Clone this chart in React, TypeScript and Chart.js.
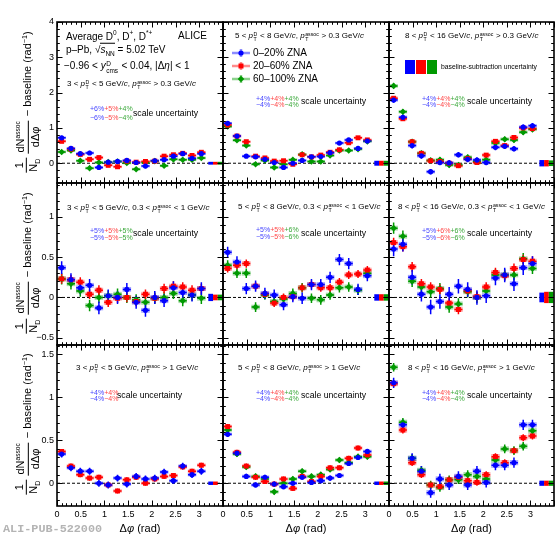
import React, { useEffect, useRef } from 'react';
import { Chart, registerables } from 'chart.js';

Chart.register(...registerables);

const W = 555;
const H = 537;
const FONT = '"Liberation Sans", Arial, Helvetica, sans-serif';

// Δφ bin centres (rad)
const DPHI = [0.0982, 0.2945, 0.4909, 0.6872, 0.8836, 1.0799, 1.2763, 1.4726, 1.669, 1.8653, 2.0617, 2.258, 2.4544, 2.6507, 2.8471, 3.0434];
const BASELINE_X = [3.24, 3.34, 3.44];
const X_TICKS = [0, 0.5, 1, 1.5, 2, 2.5, 3];
const Y_TICKS = [[0, 1, 2, 3, 4], [-0.5, 0, 0.5, 1], [0, 0.5, 1, 1.5]];
const CENTRALITY = ['0–20% ZNA', '20–60% ZNA', '60–100% ZNA'];
const D_PT_BINS = [['3', '5'], ['5', '8'], ['8', '16']];
const SCALE_UNC = [
  ['6', '5', '4'], ['4', '4', '4'], ['4', '4', '4'],
  ['5', '5', '5'], ['5', '5', '6'], ['5', '6', '6'],
  ['4', '4'], ['4', '4', '4'], ['4', '4', '4'],
];

// ---- pT(assoc) > 0.3 GeV/c ----
const d3to5_a03_c0_20 = [0.72, 0.42, 0.27, 0.29, -0.12, 0.03, 0.05, 0.08, 0.02, -0.08, 0.07, 0.10, 0.20, 0.27, 0.14, 0.27];
const d3to5_a03_c20_60 = [0.62, 0.40, 0.25, 0.11, 0.16, -0.06, -0.10, 0.06, 0.03, 0.05, 0.06, 0.20, 0.24, 0.28, 0.22, 0.31];
const d3to5_a03_c60_100 = [0.32, 0.36, 0.07, -0.14, 0.02, 0.03, 0.05, 0.01, -0.17, 0.02, 0.06, -0.07, 0.11, 0.10, 0.10, 0.15];

const d5to8_a03_c0_20 = [1.13, 0.77, 0.20, 0.18, 0.11, 0.02, -0.12, 0.00, 0.08, 0.18, 0.19, 0.30, 0.57, 0.66, 0.42, 0.63];
const d5to8_a03_c20_60 = [1.08, 0.77, 0.61, 0.20, 0.15, 0.06, 0.07, -0.03, 0.24, 0.18, 0.23, 0.31, 0.38, 0.58, 0.72, 0.66];
const d5to8_a03_c60_100 = [1.04, 0.65, 0.50, -0.03, 0.08, -0.12, -0.03, 0.10, 0.25, 0.05, 0.05, 0.22, 0.36, 0.36, 0.40, 0.62];

const d8to16_a03_c0_20 = [1.79, 1.30, 0.50, 0.21, -0.24, 0.02, 0.01, 0.24, 0.11, 0.09, 0.02, 0.45, 0.48, 0.41, 1.02, 1.06];
const d8to16_a03_c20_60 = [1.84, 1.26, 0.61, 0.28, 0.07, 0.05, 0.00, -0.07, 0.13, 0.02, 0.23, 0.62, 0.50, 0.73, 1.00, 0.98];
const d8to16_a03_c60_100 = [2.19, 1.46, 0.61, 0.28, 0.08, 0.10, -0.05, -0.05, 0.17, 0.05, 0.10, 0.57, 0.68, 0.66, 0.88, 0.96];

// ---- 0.3 < pT(assoc) < 1 GeV/c ----
const d3to5_a03to1_c0_20 = [0.37, 0.22, 0.12, 0.15, -0.13, 0.02, 0.00, 0.10, -0.06, -0.16, 0.00, -0.04, 0.12, 0.06, 0.03, 0.11];
const d3to5_a03to1_c20_60 = [0.23, 0.22, 0.19, 0.04, 0.09, -0.06, -0.01, 0.00, -0.05, 0.04, -0.01, 0.11, 0.14, 0.13, 0.09, 0.11];
const d3to5_a03to1_c60_100 = [0.23, 0.17, 0.08, -0.10, 0.00, 0.02, 0.04, 0.00, -0.03, -0.06, -0.01, 0.00, 0.05, -0.04, 0.03, -0.01];

const d5to8_a03to1_c0_20 = [0.56, 0.44, 0.11, 0.14, 0.05, 0.03, -0.09, 0.01, -0.01, 0.16, 0.16, 0.25, 0.47, 0.42, 0.10, 0.27];
const d5to8_a03to1_c20_60 = [0.36, 0.40, 0.42, 0.14, 0.04, -0.07, 0.00, 0.01, 0.12, 0.16, 0.12, 0.12, 0.19, 0.28, 0.29, 0.34];
const d5to8_a03to1_c60_100 = [0.40, 0.30, 0.30, -0.12, 0.03, -0.05, -0.02, 0.05, 0.12, -0.01, -0.03, 0.03, 0.12, 0.13, 0.09, 0.30];

const d8to16_a03to1_c0_20 = [0.60, 0.66, 0.25, 0.04, -0.12, -0.05, 0.04, 0.14, 0.10, 0.00, 0.02, 0.24, 0.28, 0.17, 0.37, 0.42];
const d8to16_a03to1_c20_60 = [0.68, 0.63, 0.38, 0.17, 0.13, 0.10, -0.07, -0.15, 0.08, 0.01, 0.13, 0.31, 0.27, 0.36, 0.47, 0.45];
const d8to16_a03to1_c60_100 = [0.86, 0.76, 0.20, 0.13, 0.07, 0.11, -0.12, -0.08, 0.07, 0.00, 0.08, 0.28, 0.28, 0.28, 0.48, 0.36];

// ---- pT(assoc) > 1 GeV/c ----
const d3to5_a1_c0_20 = [0.34, 0.18, 0.14, 0.14, 0.00, -0.02, 0.06, -0.01, 0.08, 0.05, 0.06, 0.13, 0.03, 0.20, 0.10, 0.14];
const d3to5_a1_c20_60 = [0.37, 0.20, 0.10, 0.06, 0.07, -0.02, -0.09, 0.04, 0.07, 0.00, 0.05, 0.08, 0.09, 0.19, 0.14, 0.21];

const d5to8_a1_c0_20 = [0.57, 0.35, 0.08, -0.02, 0.07, -0.01, -0.04, 0.00, 0.07, 0.01, 0.03, 0.06, 0.09, 0.23, 0.30, 0.37];
const d5to8_a1_c20_60 = [0.66, 0.36, 0.20, 0.07, 0.02, -0.01, 0.05, -0.06, 0.08, 0.02, 0.08, 0.18, 0.18, 0.29, 0.41, 0.33];
const d5to8_a1_c60_100 = [0.62, 0.34, 0.19, 0.08, 0.05, -0.10, 0.00, 0.05, 0.14, 0.08, 0.10, 0.16, 0.27, 0.24, 0.31, 0.31];

const d8to16_a1_c0_20 = [1.17, 0.68, 0.29, 0.14, -0.11, 0.05, -0.02, 0.08, -0.02, 0.14, 0.01, 0.21, 0.21, 0.24, 0.68, 0.68];
const d8to16_a1_c20_60 = [1.16, 0.62, 0.24, 0.10, -0.02, -0.04, 0.04, 0.07, 0.03, 0.01, 0.10, 0.31, 0.24, 0.38, 0.53, 0.55];
const d8to16_a1_c60_100 = [1.35, 0.71, 0.29, 0.15, -0.02, -0.05, 0.04, 0.04, 0.10, 0.08, 0.05, 0.27, 0.40, 0.38, 0.43, 0.61];

// uncertainties per panel, per centrality class
const STAT_ERR = [
  [0.06, 0.05, 0.05], [0.05, 0.05, 0.05], [0.08, 0.06, 0.07],
  [0.08, 0.06, 0.07], [0.07, 0.05, 0.06], [0.09, 0.06, 0.07],
  [0.04, 0.03], [0.03, 0.03, 0.03], [0.06, 0.04, 0.05],
];
const SYS_ERR = [
  [0.04, 0.04, 0.04], [0.04, 0.04, 0.04], [0.05, 0.05, 0.05],
  [0.03, 0.03, 0.03], [0.03, 0.03, 0.03], [0.03, 0.03, 0.03],
  [0.02, 0.02], [0.02, 0.02, 0.02], [0.03, 0.03, 0.03],
];
const BASELINE_ERR = [
  [0.04, 0.04, 0.04], [0.07, 0.07, 0.07], [0.09, 0.09, 0.08],
  [0.045, 0.035, 0.035], [0.04, 0.04, 0.04], [0.06, 0.07, 0.07],
  [0.02, 0.02], [0.02, 0.02, 0.02], [0.03, 0.03, 0.03],
];

const VALUES = [
  [d3to5_a03_c0_20, d3to5_a03_c20_60, d3to5_a03_c60_100],
  [d5to8_a03_c0_20, d5to8_a03_c20_60, d5to8_a03_c60_100],
  [d8to16_a03_c0_20, d8to16_a03_c20_60, d8to16_a03_c60_100],
  [d3to5_a03to1_c0_20, d3to5_a03to1_c20_60, d3to5_a03to1_c60_100],
  [d5to8_a03to1_c0_20, d5to8_a03to1_c20_60, d5to8_a03to1_c60_100],
  [d8to16_a03to1_c0_20, d8to16_a03to1_c20_60, d8to16_a03to1_c60_100],
  [d3to5_a1_c0_20, d3to5_a1_c20_60],
  [d5to8_a1_c0_20, d5to8_a1_c20_60, d5to8_a1_c60_100],
  [d8to16_a1_c0_20, d8to16_a1_c20_60, d8to16_a1_c60_100],
];

// ---- geometry & style ----
const COL_LEFT = [57, 223, 389];
const COL_RIGHT = [223, 389, 554];
const ROW_TOP = [22, 183, 345];
const ROW_BOTTOM = [183, 345, 506];
const Y_RANGE = [[-0.56, 4], [-0.59, 1.42], [-0.265, 1.61]];
const Y_MAJOR = [1, 0.5, 0.5];
const Y_MINOR = [0.2, 0.1, 0.1];
const COLORS = ['#0000ff', '#ff0000', '#009900'];
const COLORS_RGB = ['0,0,255', '255,0,0', '0,153,0'];
const PCT_COLORS = ['#4646ff', '#ff4646', '#3aa83a'];
const POINT_STYLES = ['circle', 'rect', 'rectRot'];
const POINT_RADII = [2.6, 3.5, 3.3];
const BAR_HW = 0.085;
const BOX_HW = 0.09;
const BASE_HW = 0.05;

function drawMarker(ctx: CanvasRenderingContext2D, k: number, x: number, y: number) {
  ctx.fillStyle = COLORS[k];
  ctx.beginPath();
  if (k === 0) ctx.arc(x, y, 2.6, 0, Math.PI * 2);
  else if (k === 1) ctx.rect(x - 2.5, y - 2.5, 5, 5);
  else { ctx.moveTo(x, y - 3.3); ctx.lineTo(x + 3.3, y); ctx.lineTo(x, y + 3.3); ctx.lineTo(x - 3.3, y); ctx.closePath(); }
  ctx.fill();
}

function makePlugin(p: number) {
  const row = Math.floor(p / 3);
  const col = p % 3;
  return {
    id: 'rootPanel',
    beforeDatasetsDraw(chart: any) {
      const { ctx, chartArea: a } = chart;
      const x = chart.scales.x;
      const y = chart.scales.y;
      const series = VALUES[p];
      ctx.save();
      ctx.beginPath();
      ctx.rect(a.left, a.top, a.right - a.left, a.bottom - a.top);
      ctx.clip();
      // zero line
      const y0 = y.getPixelForValue(0);
      ctx.setLineDash([3, 2]);
      ctx.strokeStyle = '#000';
      ctx.lineWidth = 1;
      ctx.beginPath();
      ctx.moveTo(a.left, y0);
      ctx.lineTo(a.right, y0);
      ctx.stroke();
      ctx.setLineDash([]);
      // systematic boxes
      for (let k = series.length - 1; k >= 0; k--) {
        ctx.fillStyle = `rgba(${COLORS_RGB[k]},0.35)`;
        series[k].forEach((v, i) => {
          const x1 = x.getPixelForValue(DPHI[i] - BOX_HW);
          const x2 = x.getPixelForValue(DPHI[i] + BOX_HW);
          const y1 = y.getPixelForValue(v + SYS_ERR[p][k]);
          const y2 = y.getPixelForValue(v - SYS_ERR[p][k]);
          ctx.fillRect(x1, y1, x2 - x1, y2 - y1);
        });
      }
      // baseline-subtraction uncertainty boxes
      series.forEach((_, k) => {
        ctx.fillStyle = COLORS[k];
        const x1 = x.getPixelForValue(BASELINE_X[k] - BASE_HW);
        const x2 = x.getPixelForValue(BASELINE_X[k] + BASE_HW);
        const y1 = y.getPixelForValue(BASELINE_ERR[p][k]);
        const y2 = y.getPixelForValue(-BASELINE_ERR[p][k]);
        ctx.fillRect(x1, y1, x2 - x1, y2 - y1);
      });
      // statistical error bars
      ctx.lineWidth = 1.5;
      for (let k = series.length - 1; k >= 0; k--) {
        ctx.strokeStyle = COLORS[k];
        ctx.beginPath();
        series[k].forEach((v, i) => {
          const px = x.getPixelForValue(DPHI[i]);
          const py = y.getPixelForValue(v);
          ctx.moveTo(x.getPixelForValue(DPHI[i] - BAR_HW), py);
          ctx.lineTo(x.getPixelForValue(DPHI[i] + BAR_HW), py);
          ctx.moveTo(px, y.getPixelForValue(v + STAT_ERR[p][k]));
          ctx.lineTo(px, y.getPixelForValue(v - STAT_ERR[p][k]));
        });
        ctx.stroke();
      }
      ctx.restore();
    },
    afterDatasetsDraw(chart: any) {
      const { ctx, chartArea: a } = chart;
      const x = chart.scales.x;
      const y = chart.scales.y;
      ctx.save();
      ctx.strokeStyle = '#000';
      ctx.lineWidth = 1;
      ctx.beginPath();
      const [ymin, ymax] = Y_RANGE[row];
      const ym = Y_MINOR[row];
      const yper = Math.round(Y_MAJOR[row] / ym);
      for (let k = Math.ceil(ymin / ym - 1e-9); k * ym <= ymax + 1e-9; k++) {
        const py = Math.round(y.getPixelForValue(k * ym)) + 0.5;
        const len = k % yper === 0 ? 5.5 : 2.8;
        ctx.moveTo(a.left, py); ctx.lineTo(a.left + len, py);
        ctx.moveTo(a.right, py); ctx.lineTo(a.right - len, py);
      }
      for (let k = 0; k * 0.1 <= 3.5 + 1e-9; k++) {
        const px = Math.round(x.getPixelForValue(k * 0.1)) + 0.5;
        const len = k % 5 === 0 ? 5.5 : 2.8;
        ctx.moveTo(px, a.bottom); ctx.lineTo(px, a.bottom - len);
        ctx.moveTo(px, a.top); ctx.lineTo(px, a.top + len);
      }
      ctx.stroke();
      ctx.lineWidth = 1.6;
      ctx.strokeRect(a.left, a.top, a.right - a.left, a.bottom - a.top);

      if (row === 0 && col === 1) {
        // centrality legend
        const ly = [53, 66, 79];
        ly.forEach((yy, k) => {
          ctx.strokeStyle = `rgba(${COLORS_RGB[k]},0.45)`;
          ctx.lineWidth = 2.5;
          ctx.beginPath();
          ctx.moveTo(232, yy); ctx.lineTo(250, yy);
          ctx.moveTo(241, yy - 4); ctx.lineTo(241, yy + 4);
          ctx.stroke();
          drawMarker(ctx, k, 241, yy);
        });
      }
      if (row === 0 && col === 2) {
        // baseline-subtraction legend boxes
        const bx = [405, 416, 427];
        bx.forEach((xx, k) => {
          ctx.fillStyle = COLORS[k];
          ctx.fillRect(xx, 60, 10, 14);
        });
      }
      ctx.restore();
    },
  };
}

const SS = ({ sup, sub }: { sup: any; sub: any }) => (
  <span style={{ display: 'inline-flex', flexDirection: 'column', fontSize: '0.65em', lineHeight: 1, verticalAlign: '0.45em', margin: '0 0.5px' }}>
    <span>{sup}</span>
    <span>{sub}</span>
  </span>
);

const Txt = ({ x, y, size, children, color = '#000' }: any) => (
  <div style={{ position: 'absolute', left: x, top: y, transform: 'translateY(-50%)', fontSize: size, lineHeight: 1, whiteSpace: 'nowrap', color }}>
    {children}
  </div>
);

const Frac = ({ num, den }: any) => (
  <span style={{ display: 'inline-flex', flexDirection: 'column', alignItems: 'center', margin: '0 2px' }}>
    <span style={{ padding: '0 1px 1px' }}>{num}</span>
    <span style={{ borderTop: '1px solid #000', padding: '1px 1px 0', alignSelf: 'stretch', textAlign: 'center' }}>{den}</span>
  </span>
);

const YTitle = ({ cy }: { cy: number }) => (
  <div style={{ position: 'absolute', left: 28, top: cy, transform: 'translate(-50%,-50%) rotate(-90deg)', whiteSpace: 'nowrap', fontSize: 11, display: 'flex', alignItems: 'center', lineHeight: 1 }}>
    <Frac num="1" den={<>N<sub style={{ fontSize: '0.65em' }}>D</sub></>} />
    <Frac num={<>dN<sup style={{ fontSize: '0.6em' }}>assoc</sup></>} den="dΔφ" />
    <span style={{ marginLeft: 2 }}>− baseline (rad<sup style={{ fontSize: '0.65em' }}>−1</sup>)</span>
  </div>
);

const PT = () => <><i>p</i><SS sup="D" sub="T" /></>;
const PTA = () => <><i>p</i><SS sup="assoc" sub="T" /></>;

function panelTitle(row: number, col: number) {
  const [lo, hi] = D_PT_BINS[col];
  const assoc =
    row === 0 ? <><PTA /> &gt; 0.3 GeV/<i>c</i></> :
    row === 1 ? <>0.3 &lt; <PTA /> &lt; 1 GeV/<i>c</i></> :
    <><PTA /> &gt; 1 GeV/<i>c</i></>;
  return <>{lo} &lt; <PT /> &lt; {hi} GeV/<i>c</i>, {assoc}</>;
}

const TITLE_POS = [[67, 85], [235, 37], [405, 37], [67, 209], [238, 208], [398, 208], [76, 369], [238, 369], [408, 369]];
const PCT_POS = [[90, 108, 117], [256, 98, 104], [422, 98, 104], [90, 230, 237], [256, 229, 236], [422, 230, 237], [90, 392, 398], [256, 392, 398], [422, 392, 398]];
const SU_POS = [[133, 113], [301, 101], [467, 101], [133, 233], [301, 233], [467, 233], [117, 395], [301, 395], [467, 395]];

export default function App() {
  const refs = useRef<(HTMLCanvasElement | null)[]>([]);

  useEffect(() => {
    const charts: Chart[] = [];
    for (let p = 0; p < 9; p++) {
      const canvas = refs.current[p];
      if (!canvas) continue;
      const row = Math.floor(p / 3);
      const col = p % 3;
      const series = VALUES[p];
      const chart = new Chart(canvas, {
        type: 'scatter',
        data: {
          datasets: series.map((vals, k) => ({
            label: CENTRALITY[k],
            data: DPHI.map((xv, i) => ({ x: xv, y: vals[i] })),
            pointStyle: POINT_STYLES[k] as any,
            pointRadius: POINT_RADII[k],
            backgroundColor: COLORS[k],
            borderColor: COLORS[k],
            borderWidth: 0,
            showLine: false,
          })),
        },
        options: {
          responsive: false,
          animation: false,
          devicePixelRatio: 1,
          events: [],
          layout: {
            autoPadding: false,
            padding: {
              left: col === 0 ? 0 : COL_LEFT[col],
              right: W - COL_RIGHT[col],
              top: ROW_TOP[row],
              bottom: row === 2 ? 0 : H - ROW_BOTTOM[row],
            },
          },
          plugins: { legend: { display: false }, tooltip: { enabled: false } },
          scales: {
            x: {
              type: 'linear',
              min: 0,
              max: 3.5,
              display: row === 2,
              grid: { display: false, drawTicks: false },
              border: { display: false },
              afterBuildTicks: (s: any) => { s.ticks = X_TICKS.map((v) => ({ value: v })); },
              afterFit: (s: any) => { s.height = row === 2 ? H - ROW_BOTTOM[2] : 0; },
              ticks: {
                autoSkip: false,
                maxRotation: 0,
                padding: 3,
                color: '#000',
                font: { family: FONT, size: 9 },
                callback: (v: any) => String(v),
              },
            },
            y: {
              type: 'linear',
              min: Y_RANGE[row][0],
              max: Y_RANGE[row][1],
              display: col === 0,
              grid: { display: false, drawTicks: false },
              border: { display: false },
              afterBuildTicks: (s: any) => { s.ticks = Y_TICKS[row].map((v) => ({ value: v })); },
              afterFit: (s: any) => { s.width = col === 0 ? COL_LEFT[0] : 0; },
              ticks: {
                autoSkip: false,
                padding: 3,
                color: '#000',
                font: { family: FONT, size: 9 },
                callback: (v: any) => (Number(v) < 0 ? '−' + String(Math.abs(Number(v))) : String(v)),
              },
            },
          },
        } as any,
        plugins: [makePlugin(p) as any],
      });
      charts.push(chart);
    }
    return () => charts.forEach((c) => c.destroy());
  }, []);

  return (
    <div style={{ position: 'absolute', left: 0, top: 0, width: W, height: H, background: '#fff', overflow: 'hidden', fontFamily: FONT, color: '#000' }}>
      {Array.from({ length: 9 }, (_, p) => (
        <canvas
          key={p}
          ref={(el) => { refs.current[p] = el; }}
          width={W}
          height={H}
          style={{ position: 'absolute', left: 0, top: 0, width: W, height: H }}
        />
      ))}

      {/* panel (0,0) header */}
      <Txt x={66} y={36} size={10}>Average D<sup style={{ fontSize: '0.65em' }}>0</sup>, D<sup style={{ fontSize: '0.65em' }}>+</sup>, D<sup style={{ fontSize: '0.65em' }}>*+</sup></Txt>
      <Txt x={178} y={36} size={10}>ALICE</Txt>
      <Txt x={66} y={51} size={10}>p–Pb, <span>√<span style={{ borderTop: '1px solid #000' }}><i>s</i><sub style={{ fontSize: '0.65em' }}>NN</sub></span></span> = 5.02 TeV</Txt>
      <Txt x={64} y={68} size={10}>−0.96 &lt; <i>y</i><SS sup="D" sub="cms" /> &lt; 0.04, |Δ<i>η</i>| &lt; 1</Txt>

      {TITLE_POS.map(([x, y], p) => (
        <Txt key={'t' + p} x={x} y={y} size={8}>{panelTitle(Math.floor(p / 3), p % 3)}</Txt>
      ))}

      {PCT_POS.map(([x, y1, y2], p) => (
        <React.Fragment key={'pct' + p}>
          <Txt x={x} y={y1} size={7}>{SCALE_UNC[p].map((s, k) => <span key={k} style={{ color: PCT_COLORS[k] }}>+{s}%</span>)}</Txt>
          <Txt x={x} y={y2} size={7}>{SCALE_UNC[p].map((s, k) => <span key={k} style={{ color: PCT_COLORS[k] }}>−{s}%</span>)}</Txt>
        </React.Fragment>
      ))}
      {SU_POS.map(([x, y], p) => (
        <Txt key={'su' + p} x={x} y={y} size={8.7}>scale uncertainty</Txt>
      ))}

      {/* legend (0,1) */}
      {CENTRALITY.map((c, k) => (
        <Txt key={'lg' + k} x={253} y={53 + 13 * k} size={10}>{c}</Txt>
      ))}
      <Txt x={441} y={67} size={6.8}>baseline-subtraction uncertainty</Txt>

      {/* axis titles */}
      {[103, 264, 425].map((cy, r) => <YTitle key={'yt' + r} cy={cy} />)}
      {[0, 1, 2].map((c) => (
        <div key={'xt' + c} style={{ position: 'absolute', left: (COL_LEFT[c] + COL_RIGHT[c]) / 2, top: 528, transform: 'translate(-50%,-50%)', fontSize: 11, lineHeight: 1, whiteSpace: 'nowrap' }}>
          Δ<i>φ</i> (rad)
        </div>
      ))}
      <div style={{ position: 'absolute', left: 3, top: 530, transform: 'translateY(-50%)', fontFamily: '"Liberation Mono", "Courier New", monospace', fontWeight: 'bold', fontSize: 11.8, color: '#b4b4b4', lineHeight: 1, whiteSpace: 'nowrap' }}>
        ALI-PUB-522000
      </div>
    </div>
  );
}
